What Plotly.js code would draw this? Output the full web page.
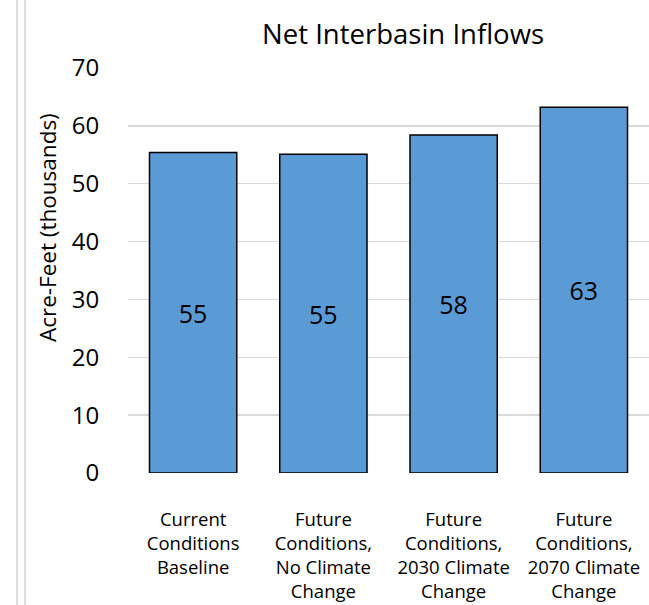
<!DOCTYPE html>
<html>
<head>
<meta charset="utf-8">
<script src="https://cdn.plot.ly/plotly-3.0.1.min.js"></script>
<style>html,body{margin:0;padding:0;background:#fff;}#chart{width:649px;height:605px;}</style>
</head>
<body>
<div id="chart"></div>
<script>
const categories = [
  "Current<br>Conditions<br>Baseline",
  "Future<br>Conditions,<br>No Climate<br>Change",
  "Future<br>Conditions,<br>2030 Climate<br>Change",
  "Future<br>Conditions,<br>2070 Climate<br>Change"
];
const values = [55.4, 55.1, 58.4, 63.2];
const labels = ["55", "55", "58", "63"];
const yTicks = [0, 10, 20, 30, 40, 50, 60, 70];

const FONT = "'Open Sans', 'Noto Sans', sans-serif";

const trace = {
  type: "bar",
  x: categories,
  y: values,
  text: labels,
  textposition: "inside",
  insidetextanchor: "middle",
  textfont: {family: FONT, size: 25, color: "#000"},
  marker: {color: "#5B9BD5", line: {color: "#000", width: 1.5}},
  hoverinfo: "skip"
};

const layout = {
  width: 649, height: 605,
  margin: {l: 128, r: 0, t: 68, b: 132, pad: 0},
  paper_bgcolor: "#fff", plot_bgcolor: "#fff",
  showlegend: false,
  bargap: 0.33,
  font: {family: FONT, color: "#000"},
  title: {
    text: "Net Interbasin Inflows",
    font: {family: FONT, size: 27.5, color: "#000"},
    x: 0.528, xref: "paper", xanchor: "center",
    y: 0.943, yref: "container", yanchor: "middle"
  },
  xaxis: {
    type: "category",
    showgrid: false, zeroline: false, showline: false,
    ticks: "outside", ticklen: 30, tickcolor: "rgba(0,0,0,0)",
    tickfont: {family: FONT, size: 18.5, color: "#000"}
  },
  yaxis: {
    range: [0, 70],
    tickvals: yTicks,
    ticktext: yTicks.map(String),
    showgrid: true, gridcolor: "#d9d9d9", gridwidth: 1.5,
    zeroline: false, showline: false,
    ticks: "outside", ticklen: 23, tickcolor: "rgba(0,0,0,0)",
    tickfont: {family: FONT, size: 24, color: "#000"}
  },
  annotations: [{
    text: "Acre-Feet (thousands)",
    xref: "paper", yref: "paper",
    x: (47 - 128) / 521, y: (473 - 228) / 405,
    xanchor: "center", yanchor: "middle",
    textangle: -90, showarrow: false,
    font: {family: FONT, size: 22.5, color: "#000"}
  }],
  shapes: [
    {type: "line", xref: "paper", yref: "paper", x0: (17 - 128) / 521, x1: (17 - 128) / 521, y0: -0.4, y1: 1.3, line: {color: "#d4d4d4", width: 1.5}},
    {type: "line", xref: "paper", yref: "paper", x0: (25 - 128) / 521, x1: (25 - 128) / 521, y0: -0.4, y1: 1.3, line: {color: "#d4d4d4", width: 1.5}}
  ]
};

Plotly.newPlot("chart", [trace], layout, {displayModeBar: false, staticPlot: true});
</script>
</body>
</html>
